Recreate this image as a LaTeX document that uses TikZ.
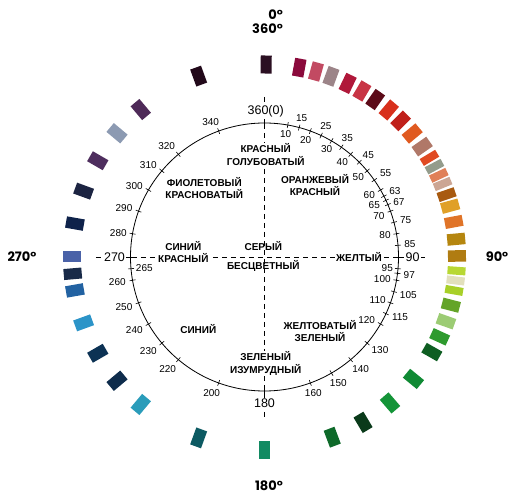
\documentclass[tikz,border=0pt]{standalone}
\usepackage{fontspec}
\setmainfont{Liberation Sans}
\newfontfamily\degfont{Poppins}

\tikzset{
  huetick/.style={line width=0.6pt},
  hue/.style={font=\fontsize{10}{12}\selectfont, inner sep=0.5pt},
  bighue/.style={font=\fontsize{12.5}{14}\selectfont, fill=white, inner sep=1.5pt},
  region/.style={font=\bfseries\fontsize{10}{12.5}\selectfont, align=center, fill=white, inner sep=1pt},
  degree/.style={font=\degfont\bfseries\fontsize{13}{14}\selectfont, align=right, inner sep=0pt},
  swatch/.style={minimum height=18pt, inner sep=0pt, outer sep=0pt},
  axisline/.style={line width=0.8pt, dash pattern=on 5pt off 4pt}
}

\begin{document}
\begin{tikzpicture}[x=1pt, y=1pt]
  \useasboundingbox (-264.5,-243) rectangle (249.5,257);

  % colour samples round the wheel
  \foreach \a/\w/\c [count=\i] in {
      0.5/11/2B0F22, 10.4/11.5/8B0A3C, 15.5/11.5/C24A62, 20.2/11.5/9C8488,
      25.6/11.5/B0183A, 30.4/11.5/C83444, 35.1/11.5/5C0A18, 40.2/11.5/D8301C,
      45/11.5/C0201A, 50.1/11.5/E05A20, 55/11.5/B07868, 59/8/E04A22,
      62/8/949C8C, 64.9/8/E08058, 67.7/8/CCA694, 71.1/9.5/A85A10,
      74.7/11/E0A028, 79.5/11/E07428, 84.7/11.5/B5860F, 89.7/11.5/B07C12,
      94.1/8/B8D834, 97/8/E2E0BC, 100/8/A8D028, 104.5/11/64A428,
      109.5/11/9CCC74, 114.5/11/2E9A2E, 119.6/11/0E5E22, 129.3/11.5/108A34,
      139.3/11.5/149438, 149.2/11.5/0A3A1A, 159.4/11.5/0E6A2A, 180/11.5/128A62,
      200/11.5/0C5A62, 220/11.5/2A9CBA, 230/11.5/0E2C4C, 240/11.5/0C3254,
      250/11.5/2C94C8, 260/11.5/2262A2, 265/11/182A48, 270/11/4A62A8,
      280/11.5/0E224A, 290/11.5/1C2442, 300/11.5/4E2E5E, 310/11.5/8C9AB2,
      320/11.5/4E2A58, 340/11.5/22091A}
  {
    \definecolor{swcol}{HTML}{\c}
    \node[swatch, fill=swcol, minimum width=\w pt, rotate=-\a] (sw\i) at (90-\a:192.5) {};
  }

  % axes
  \coordinate (N) at (0,160);   \coordinate (S) at (0,-161);
  \coordinate (W) at (-168.5,0); \coordinate (E) at (163.5,0);
  \draw[axisline] (N) -- (S);
  \draw[axisline] (W) -- (E);

  % hue circle and ticks
  \draw[line width=0.8pt] (0,0) circle (134);
  \foreach \v in {0,10,15,20,25,30,35,40,45,50,55,60,63,65,67,70,75,80,85,90,
                  95,97,100,105,110,115,120,130,140,150,160,180,200,220,230,240,
                  250,260,265,270,280,290,300,310,320,340}
    \draw[huetick] (90-\v:131) -- (90-\v:137);

  % hue numbers
  \node[bighue] (h0) at (1.2,145.3) {360(0)};
  \node[hue] (h10) at (21.2,122.7) {10};   \node[hue] (h15) at (37.2,138.7) {15};
  \node[hue] (h20) at (41.2,117) {20};     \node[hue] (h25) at (61.5,131) {25};
  \node[hue] (h30) at (62.2,107.7) {30};   \node[hue] (h35) at (82.8,118.7) {35};
  \node[hue] (h40) at (77.8,94.7) {40};    \node[hue] (h45) at (103.8,102) {45};
  \node[hue] (h50) at (93.8,79.7) {50};    \node[hue] (h55) at (121.2,83.7) {55};
  \node[hue] (h60) at (104.8,62) {60};     \node[hue] (h63) at (130.5,66.3) {63};
  \node[hue] (h65) at (109.8,52) {65};     \node[hue] (h67) at (134.5,54.7) {67};
  \node[hue] (h70) at (114.5,41.3) {70};   \node[hue] (h75) at (141.2,36.7) {75};
  \node[hue] (h80) at (120.5,21.7) {80};   \node[hue] (h85) at (145.5,13) {85};
  \node[bighue] (h90) at (148.2,0) {90};
  \node[hue] (h95) at (122.8,-11.3) {95};  \node[hue] (h97) at (144.8,-18) {97};
  \node[hue] (h100) at (117.8,-22.3) {100}; \node[hue] (h105) at (143.8,-38.3) {105};
  \node[hue] (h110) at (113.2,-43) {110};  \node[hue] (h115) at (135.5,-60.3) {115};
  \node[hue] (h120) at (102.2,-63) {120};  \node[hue] (h130) at (115.5,-93) {130};
  \node[hue] (h140) at (96.2,-112.3) {140}; \node[hue] (h150) at (73.8,-126.3) {150};
  \node[hue] (h160) at (48.8,-136.3) {160};
  \node[bighue] (h180) at (0,-146.5) {180};
  \node[hue] (h200) at (-52.8,-135.7) {200}; \node[hue] (h220) at (-96.8,-112.3) {220};
  \node[hue] (h230) at (-116.2,-93.7) {230}; \node[hue] (h240) at (-130.2,-73) {240};
  \node[hue] (h250) at (-140.5,-50.3) {250}; \node[hue] (h260) at (-147.2,-25.3) {260};
  \node[hue] (h265) at (-120.2,-11.3) {265};
  \node[bighue] (h270) at (-150,0) {270};
  \node[hue] (h280) at (-146.2,23.7) {280}; \node[hue] (h290) at (-140.5,48.7) {290};
  \node[hue] (h300) at (-130.2,71.3) {300}; \node[hue] (h310) at (-116.2,92) {310};
  \node[hue] (h320) at (-97.8,111) {320};   \node[hue] (h340) at (-53.8,134.7) {340};

  % colour names
  \node[region] (redblue) at (1.2,102.3) {КРАСНЫЙ\\ГОЛУБОВАТЫЙ};
  \node[region] (violet) at (-60.2,69.2) {ФИОЛЕТОВЫЙ\\КРАСНОВАТЫЙ};
  \node[region] (orange) at (50.5,72) {ОРАНЖЕВЫЙ\\КРАСНЫЙ};
  \node[region] (bluered) at (-81.2,5) {СИНИЙ\\КРАСНЫЙ};
  \node[region, fill=none] (grey) at (-1.2,11.3) {СЕРЫЙ};
  \node[region, fill=none] (achrom) at (-1.2,-9) {БЕСЦВЕТНЫЙ};
  \node[region] (yellow) at (94.5,0) {ЖЕЛТЫЙ};
  \node[region] (blue) at (-66.2,-72.3) {СИНИЙ};
  \node[region] (yelgreen) at (55.5,-74) {ЖЕЛТОВАТЫЙ\\ЗЕЛЕНЫЙ};
  \node[region] (emerald) at (1.2,-106.3) {ЗЕЛЕНЫЙ\\ИЗУМРУДНЫЙ};

  % degrees
  \node[degree] (d0) at (3,235) {0°\\360°};
  \node[degree] (d90) at (232.5,0.3) {90°};
  \node[degree] (d180) at (4.5,-229) {180°};
  \node[degree] (d270) at (-242.5,0) {270°};
\end{tikzpicture}
\end{document}
